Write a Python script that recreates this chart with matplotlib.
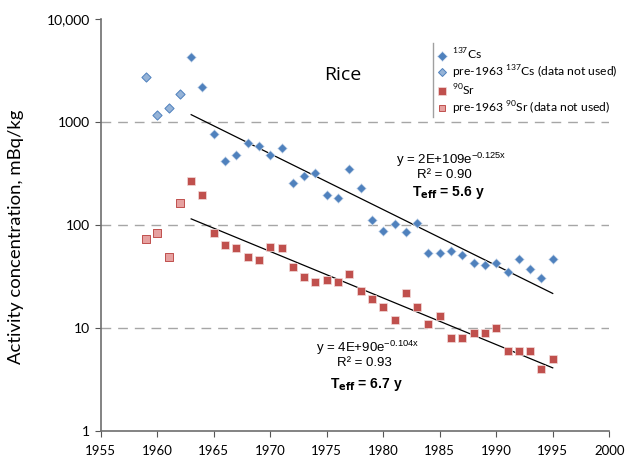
import numpy as np
import matplotlib
matplotlib.use("Agg")
import matplotlib.pyplot as plt
from matplotlib.lines import Line2D

# ---- data ----
cs_pre_years = [1959, 1960, 1961, 1962]
cs_pre_vals = [2700, 1170, 1370, 1870]
cs_years = list(range(1963, 1996))
cs_vals = [4280, 2190, 765, 418, 478, 626, 585, 478, 560, 256, 299, 320, 196, 183,
           350, 229, 112, 87.5, 102, 85.5, 105, 53.5, 53.5, 56, 51, 42.8, 41, 42.8,
           35, 46.8, 37.4, 30.6, 46.8]
sr_pre_years = [1959, 1960, 1961, 1962]
sr_pre_vals = [73, 84, 49, 164]
sr_years = list(range(1963, 1996))
sr_vals = [267, 196, 84, 64, 60, 49, 45.7, 61, 60, 39, 31.3, 28, 29.2, 28, 33.4,
           22.9, 19.1, 16, 12, 21.9, 16, 10.9, 13.1, 8, 8, 8.9, 8.9, 10, 6, 6, 6, 4, 5]
x_ticks = list(range(1955, 2001, 5))
y_ticks = [1, 10, 100, 1000, 10000]
y_ticklabels = ["1", "10", "100", "1000", "10,000"]

blue = "#4F81BD"
blue_light = "#95B3D7"
red = "#C0504D"
red_light = "#E6A1A0"

fig = plt.figure(figsize=(6.3, 4.59), dpi=100)
ax = fig.add_axes([0.160, 0.061, 0.807, 0.898])
ax.set_yscale("log")
ax.set_xlim(1955, 2000)
ax.set_ylim(1, 10000)

for y in [10, 100, 1000]:
    ax.axhline(y, color="#A6A6A6", lw=1.0, dashes=(7, 5), zorder=0)

# fits
def fit(xs, ys):
    xs = np.array(xs, float); ys = np.array(ys, float)
    b, a = np.polyfit(xs, np.log(ys), 1)
    xx = np.array([xs.min(), xs.max()])
    return xx, np.exp(a + b * xx)

xx, yy = fit(cs_years, cs_vals)
ax.plot(xx, yy, color="black", lw=0.9, zorder=2)
xx, yy = fit(sr_years, sr_vals)
ax.plot(xx, yy, color="black", lw=0.9, zorder=2)

ax.scatter(cs_years, cs_vals, marker="D", s=24, color=blue, edgecolors="#DCE6F2",
           linewidths=0.5, zorder=3)
ax.scatter(cs_pre_years, cs_pre_vals, marker="D", s=22, color=blue_light,
           edgecolors=blue, linewidths=0.7, zorder=3)
ax.scatter(sr_years, sr_vals, marker="s", s=30, color=red, edgecolors="#F2DCDB",
           linewidths=0.5, zorder=3)
ax.scatter(sr_pre_years, sr_pre_vals, marker="s", s=27, color=red_light,
           edgecolors=red, linewidths=0.7, zorder=3)

tickfont = "Lato"
ax.set_xticks(x_ticks)
ax.set_xticklabels([str(t) for t in x_ticks], fontsize=9.5, family=tickfont)
ax.set_yticks(y_ticks)
ax.set_yticklabels(y_ticklabels, fontsize=10, family=tickfont)
ax.yaxis.set_minor_locator(matplotlib.ticker.NullLocator())
ax.tick_params(axis="both", direction="out", length=4, width=0.8, color="#555555")
ax.tick_params(axis="x", pad=6)
for s in ["top", "right"]:
    ax.spines[s].set_visible(False)
for s in ["left", "bottom"]:
    ax.spines[s].set_color("#6E6E6E")
    ax.spines[s].set_linewidth(1.2)

ax.set_ylabel("Activity concentration, mBq/kg", fontsize=13.3, family=tickfont)
ax.yaxis.set_label_coords(-0.152, 0.471)

ax.text(1976.4, 2860, "Rice", fontsize=14, family="Open Sans", ha="center", va="center")

eqfont = "Liberation Sans"
ax.text(1986.0, 428, r"y = 2E+109e$^{\mathregular{-0.125x}}$", fontsize=9.5, family=eqfont,
        ha="center", va="center")
ax.text(1985.4, 306, "R² = 0.90", fontsize=9.5, family=eqfont, ha="center", va="center")
ax.text(1985.8, 205, r"T$_{\mathbf{eff}}$ = 5.6 y", fontsize=10, family=eqfont,
        fontweight="bold", ha="center", va="center")

ax.text(1978.6, 6.4, r"y = 4E+90e$^{\mathregular{-0.104x}}$", fontsize=9.5, family=eqfont,
        ha="center", va="center")
ax.text(1978.3, 4.57, "R² = 0.93", fontsize=9.5, family=eqfont, ha="center", va="center")
ax.text(1978.5, 2.8, r"T$_{\mathbf{eff}}$ = 6.7 y", fontsize=10, family=eqfont,
        fontweight="bold", ha="center", va="center")

handles = [
    Line2D([], [], ls="none", marker="D", ms=4.8, mfc=blue, mec="#DCE6F2", mew=0.5),
    Line2D([], [], ls="none", marker="D", ms=4.4, mfc=blue_light, mec=blue, mew=0.7),
    Line2D([], [], ls="none", marker="s", ms=5.3, mfc=red, mec="#F2DCDB", mew=0.5),
    Line2D([], [], ls="none", marker="s", ms=4.9, mfc=red_light, mec=red, mew=0.7),
]
labels = [r"$^{\mathregular{137}}$Cs", r"pre-1963 $^{\mathregular{137}}$Cs (data not used)",
          r"$^{\mathregular{90}}$Sr", r"pre-1963 $^{\mathregular{90}}$Sr (data not used)"]
leg = fig.legend(handles, labels, loc="upper left",
                 bbox_to_anchor=(437 / 630, 1 - 47 / 459), bbox_transform=fig.transFigure,
                 frameon=False, prop={"family": "Lato", "size": 8.7},
                 handlelength=0.8, handletextpad=0.4, labelspacing=0.12,
                 borderaxespad=0.0, borderpad=0.0)
fig.add_artist(Line2D([433 / 630, 433 / 630], [1 - 43 / 459, 1 - 117 / 459],
                      color="#A0A0A0", lw=1.0))

fig.savefig("out.png", dpi=100)
